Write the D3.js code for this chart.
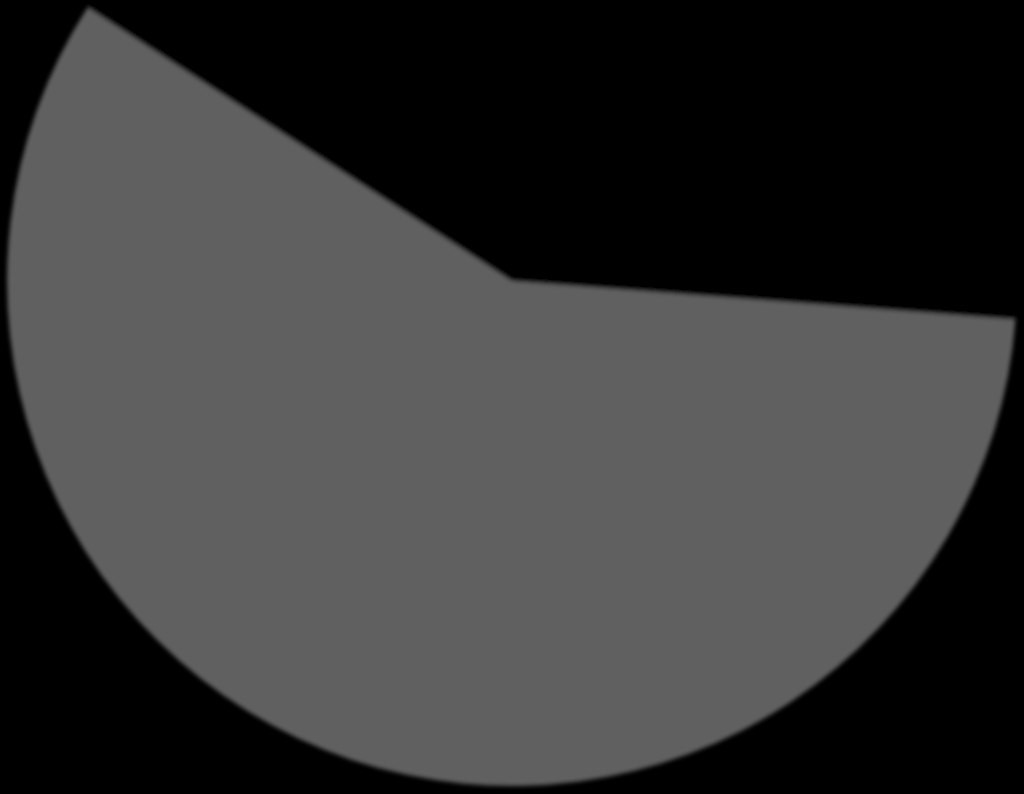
<!DOCTYPE html>
<html>
<head>
<meta charset="utf-8">
<script src="https://cdn.jsdelivr.net/npm/d3@7"></script>
<style>
  html, body { margin: 0; padding: 0; background: #000; overflow: hidden; }
</style>
</head>
<body>
<div id="chart"></div>
<script>
// two-slice pie, only the larger share is painted; the other blends into the background
const categories = ['hidden', 'shown'];
const values = [42.1, 57.9];
const colors = ['#000000', '#616161'];

const W = 1024, H = 794;
const cx = 512, cy = 281, radius = 505;
const startDeg = -57.2;

const svg = d3.select('#chart').append('svg')
  .attr('width', W)
  .attr('height', H)
  .style('display', 'block');

svg.append('rect').attr('width', W).attr('height', H).attr('fill', '#000');

const defs = svg.append('defs');
defs.append('filter')
  .attr('id', 'soft')
  .attr('x', '-10%').attr('y', '-10%')
  .attr('width', '120%').attr('height', '120%')
  .append('feGaussianBlur')
  .attr('stdDeviation', 2.2);

const pie = d3.pie()
  .sort(null)
  .startAngle(startDeg * Math.PI / 180)
  .endAngle((startDeg + 360) * Math.PI / 180);

const arc = d3.arc().innerRadius(0).outerRadius(radius);

const data = categories.map((c, i) => ({ name: c, value: values[i], color: colors[i] }));

svg.append('g')
  .attr('transform', `translate(${cx},${cy})`)
  .attr('filter', 'url(#soft)')
  .selectAll('path')
  .data(pie.value(d => d.value)(data))
  .enter()
  .append('path')
  .attr('d', arc)
  .attr('fill', d => d.data.color);
</script>
</body>
</html>
